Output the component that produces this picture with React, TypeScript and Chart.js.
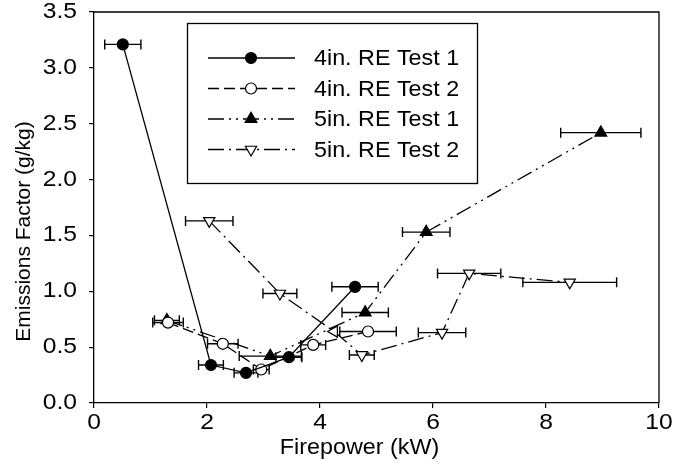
import React, { useEffect, useRef } from 'react';
import { Chart, registerables } from 'chart.js';

Chart.register(...registerables);

const seriesNames = ['4in. RE Test 1', '4in. RE Test 2', '5in. RE Test 1', '5in. RE Test 2'];

const re4Test1X = [0.51, 2.07, 2.69, 3.45, 4.62];
const re4Test1Y = [3.21, 0.34, 0.27, 0.41, 1.04];
const re4Test1Err = [0.32, 0.22, 0.21, 0.23, 0.41];

const re4Test2X = [1.31, 2.28, 2.96, 3.88, 4.85];
const re4Test2Y = [0.72, 0.53, 0.30, 0.52, 0.64];
const re4Test2Err = [0.27, 0.27, 0.14, 0.22, 0.5];

const re5Test1X = [1.29, 3.12, 4.8, 5.88, 8.97];
const re5Test1Y = [0.74, 0.42, 0.81, 1.53, 2.42];
const re5Test1Err = [0.22, 0.55, 0.41, 0.42, 0.71];

const re5Test2X = [2.04, 3.29, 4.25, 4.74, 6.16, 6.64, 8.42];
const re5Test2Y = [1.63, 0.98, 0.64, 0.43, 0.63, 1.16, 1.08];
const re5Test2Err = [0.42, 0.3, 0, 0.22, 0.42, 0.56, 0.83];

const xTickValues = [0, 2, 4, 6, 8, 10];
const yTickValues = [0, 0.5, 1.0, 1.5, 2.0, 2.5, 3.0, 3.5];
const xTickLabels = ['0', '2', '4', '6', '8', '10'];
const yTickLabels = ['0.0', '0.5', '1.0', '1.5', '2.0', '2.5', '3.0', '3.5'];

const xTitle = 'Firepower (kW)';
const yTitle = 'Emissions Factor (g/kg)';

const FONT = '"Liberation Sans", Arial, Helvetica, sans-serif';

const toPoints = (xs: number[], ys: number[]) => xs.map((x, i) => ({ x, y: ys[i] }));

function stretchedText(ctx: CanvasRenderingContext2D, text: string, x: number, y: number, align: CanvasTextAlign, size: number, stretch: number) {
  ctx.save();
  ctx.translate(x, y);
  ctx.scale(stretch, 1);
  ctx.font = `${size}px ${FONT}`;
  ctx.fillStyle = '#000';
  ctx.textAlign = align;
  ctx.textBaseline = 'middle';
  ctx.fillText(text, 0, 0);
  ctx.restore();
}

function drawMarker(ctx: CanvasRenderingContext2D, style: string, x: number, y: number, r: number, rotDeg: number, fill: string) {
  ctx.save();
  ctx.beginPath();
  if (style === 'circle') {
    ctx.arc(x, y, r, 0, Math.PI * 2);
  } else {
    let rad = (rotDeg * Math.PI) / 180;
    ctx.moveTo(x + Math.sin(rad) * r, y - Math.cos(rad) * r);
    rad += (2 * Math.PI) / 3;
    ctx.lineTo(x + Math.sin(rad) * r, y - Math.cos(rad) * r);
    rad += (2 * Math.PI) / 3;
    ctx.lineTo(x + Math.sin(rad) * r, y - Math.cos(rad) * r);
    ctx.closePath();
  }
  ctx.fillStyle = fill;
  ctx.fill();
  ctx.setLineDash([]);
  ctx.strokeStyle = '#000';
  ctx.lineWidth = 1.2;
  ctx.stroke();
  ctx.restore();
}

const errorBarPlugin = {
  id: 'errorBars',
  beforeDatasetsDraw(chart: any) {
    const { ctx, scales } = chart;
    const xs = scales.x;
    const ys = scales.y;
    ctx.save();
    ctx.strokeStyle = '#000';
    ctx.lineWidth = 1.4;
    ctx.setLineDash([]);
    chart.data.datasets.forEach((ds: any) => {
      ds.data.forEach((p: any, j: number) => {
        const e = ds.xErr[j];
        if (!e) return;
        const x1 = xs.getPixelForValue(p.x - e);
        const x2 = xs.getPixelForValue(p.x + e);
        const py = ys.getPixelForValue(p.y);
        ctx.beginPath();
        ctx.moveTo(x1, py);
        ctx.lineTo(x2, py);
        ctx.moveTo(x1, py - 5);
        ctx.lineTo(x1, py + 5);
        ctx.moveTo(x2, py - 5);
        ctx.lineTo(x2, py + 5);
        ctx.stroke();
      });
    });
    ctx.restore();
  },
  afterDraw(chart: any) {
    const { ctx, chartArea, scales } = chart;
    ctx.save();
    // frame (top and right)
    ctx.strokeStyle = '#000';
    ctx.lineWidth = 1.3;
    ctx.setLineDash([]);
    ctx.beginPath();
    ctx.moveTo(chartArea.left, chartArea.top);
    ctx.lineTo(chartArea.right, chartArea.top);
    ctx.lineTo(chartArea.right, chartArea.bottom);
    ctx.stroke();

    // tick labels, placed through the scales
    xTickValues.forEach((v, i) => {
      stretchedText(ctx, xTickLabels[i], scales.x.getPixelForValue(v), 423, 'center', 22, 1.12);
    });
    yTickValues.forEach((v, i) => {
      stretchedText(ctx, yTickLabels[i], 77, scales.y.getPixelForValue(v), 'right', 22, 1.12);
    });

    // axis titles
    stretchedText(ctx, xTitle, (chartArea.left + chartArea.right) / 2 - 17, 448, 'center', 22, 1.06);
    ctx.save();
    ctx.fillStyle = '#000';
    ctx.font = `21px ${FONT}`;
    ctx.textAlign = 'center';
    ctx.textBaseline = 'middle';
    ctx.translate(24, (chartArea.top + chartArea.bottom) / 2 + 24);
    ctx.rotate(-Math.PI / 2);
    ctx.fillText(yTitle, 0, 0);
    ctx.restore();

    // legend
    const bx = 187.5, by = 23.5, bw = 290, bh = 160;
    ctx.fillStyle = '#fff';
    ctx.fillRect(bx, by, bw, bh);
    ctx.strokeStyle = '#000';
    ctx.lineWidth = 1.3;
    ctx.strokeRect(bx, by, bw, bh);
    chart.data.datasets.forEach((ds: any, i: number) => {
      const ly = 58 + i * 30.5;
      ctx.save();
      ctx.strokeStyle = '#000';
      ctx.lineWidth = ds.borderWidth;
      ctx.setLineDash(ds.borderDash || []);
      ctx.beginPath();
      ctx.moveTo(208, ly);
      ctx.lineTo(295, ly);
      ctx.stroke();
      ctx.restore();
      const rot = Array.isArray(ds.pointRotation) ? ds.pointRotation[0] : ds.pointRotation || 0;
      drawMarker(ctx, ds.pointStyle, 251, ly, ds.pointRadius, rot, ds.pointBackgroundColor);
      stretchedText(ctx, seriesNames[i], 314, ly + 1, 'left', 22, 1.06);
    });
    ctx.restore();
  },
};

export default function App() {
  const ref = useRef<HTMLCanvasElement | null>(null);

  useEffect(() => {
    document.body.style.margin = '0';
    const canvas = ref.current;
    if (!canvas) return;
    const common = {
      showLine: true,
      borderColor: '#000',
      borderWidth: 1.3,
      pointBorderColor: '#000',
      pointBorderWidth: 1.2,
      fill: false,
      tension: 0,
    };
    const chart = new Chart(canvas, {
      type: 'scatter',
      data: {
        datasets: [
          {
            ...common,
            label: seriesNames[0],
            data: toPoints(re4Test1X, re4Test1Y),
            xErr: re4Test1Err,
            borderDash: [],
            pointStyle: 'circle',
            pointRadius: 5.5,
            pointBackgroundColor: '#000',
          },
          {
            ...common,
            label: seriesNames[1],
            data: toPoints(re4Test2X, re4Test2Y),
            xErr: re4Test2Err,
            borderDash: [11, 5],
            pointStyle: 'circle',
            pointRadius: 5.5,
            pointBackgroundColor: '#fff',
          },
          {
            ...common,
            label: seriesNames[2],
            data: toPoints(re5Test1X, re5Test1Y),
            xErr: re5Test1Err,
            borderDash: [16, 5, 2, 5, 2, 5],
            pointStyle: 'triangle',
            pointRadius: 6.8,
            pointRotation: 0,
            pointBackgroundColor: '#000',
          },
          {
            ...common,
            label: seriesNames[3],
            data: toPoints(re5Test2X, re5Test2Y),
            xErr: re5Test2Err,
            borderDash: [16, 5, 2, 5],
            pointStyle: 'triangle',
            pointRadius: 6.5,
            pointRotation: [180, 180, 270, 180, 180, 180, 180],
            pointBackgroundColor: '#fff',
          },
        ] as any,
      },
      options: {
        responsive: false,
        animation: false,
        devicePixelRatio: 1,
        layout: { padding: { left: 0, right: 15, top: 12, bottom: 0 } },
        plugins: {
          legend: { display: false },
          tooltip: { enabled: false },
        },
        scales: {
          x: {
            type: 'linear',
            min: 0,
            max: 10,
            afterBuildTicks: (scale: any) => {
              scale.ticks = xTickValues.map((v) => ({ value: v }));
            },
            afterFit: (scale: any) => {
              scale.height = 72;
              scale.paddingLeft = 0;
              scale.paddingRight = 0;
            },
            ticks: { display: false },
            grid: { display: true, drawOnChartArea: false, drawTicks: true, tickLength: 5, color: '#000', lineWidth: 1.2 },
            border: { display: true, color: '#000', width: 1.3 },
            title: { display: false },
          },
          y: {
            type: 'linear',
            min: 0,
            max: 3.5,
            afterBuildTicks: (scale: any) => {
              scale.ticks = yTickValues.map((v) => ({ value: v }));
            },
            afterFit: (scale: any) => {
              scale.width = 94;
              scale.paddingTop = 0;
              scale.paddingBottom = 0;
            },
            ticks: { display: false },
            grid: { display: true, drawOnChartArea: false, drawTicks: true, tickLength: 5, color: '#000', lineWidth: 1.2 },
            border: { display: true, color: '#000', width: 1.3 },
            title: { display: false },
          },
        },
      },
      plugins: [errorBarPlugin],
    } as any);
    return () => chart.destroy();
  }, []);

  return (
    <div style={{ width: 674, height: 475, position: 'relative' }}>
      <canvas ref={ref} width={674} height={475} style={{ display: 'block' }} />
    </div>
  );
}
